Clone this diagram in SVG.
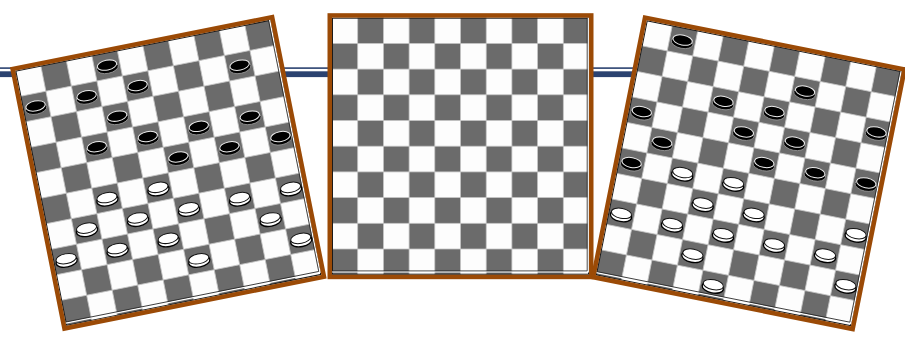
<svg xmlns="http://www.w3.org/2000/svg" xmlns:xlink="http://www.w3.org/1999/xlink" width="905" height="338" viewBox="0 0 905 338">
<style>
.dk{fill:#6b6b6b;stroke:#c4c4c4;stroke-width:0.8}
.frame{fill:none;stroke:#9b4a06;stroke-width:4.5}
.inner{fill:none;stroke:#1a1a1a;stroke-width:1}
.rail{fill:#2b4270}
</style>
<defs>
<g id="rowA">
<rect class="dk" x="25.7" y="0" width="25.7" height="25.7"/><rect class="dk" x="77.1" y="0" width="25.7" height="25.7"/><rect class="dk" x="128.5" y="0" width="25.7" height="25.7"/><rect class="dk" x="179.9" y="0" width="25.7" height="25.7"/><rect class="dk" x="231.3" y="0" width="25.7" height="25.7"/>
</g>
<g id="rowB">
<rect class="dk" x="0" y="0" width="25.7" height="25.7"/><rect class="dk" x="51.4" y="0" width="25.7" height="25.7"/><rect class="dk" x="102.8" y="0" width="25.7" height="25.7"/><rect class="dk" x="154.2" y="0" width="25.7" height="25.7"/><rect class="dk" x="205.6" y="0" width="25.7" height="25.7"/>
</g>
<g id="board">
<rect x="0" y="0" width="257" height="257" fill="#fdfdfd"/>
<use href="#rowA" y="0"/><use href="#rowB" y="25.7"/><use href="#rowA" y="51.4"/><use href="#rowB" y="77.1"/><use href="#rowA" y="102.8"/><use href="#rowB" y="128.5"/><use href="#rowA" y="154.2"/><use href="#rowB" y="179.9"/><use href="#rowA" y="205.6"/><use href="#rowB" y="231.3"/>
<rect class="inner" x="0.5" y="0.5" width="256" height="256"/>
<path d="M0 254.2H256.2V0" fill="none" stroke="#ffffff" stroke-width="1.4"/>
<path d="M0 253.2H255.2V0" fill="none" stroke="#222" stroke-width="0.8"/>
<rect class="frame" x="-2.25" y="-2.25" width="261.5" height="261.5"/>
</g>
<g id="bp">
<ellipse cx="0" cy="1.9" rx="10.8" ry="5.7" fill="#000" stroke="#9a9a9a" stroke-width="0.8"/>
<ellipse cx="0" cy="-0.6" rx="9.7" ry="4.9" fill="#000" stroke="#eeeeee" stroke-width="1"/>
</g>
<g id="wp">
<ellipse cx="0" cy="1.9" rx="10.6" ry="5.5" fill="#fff" stroke="#000" stroke-width="1.3"/>
<ellipse cx="0" cy="-0.8" rx="10.1" ry="4.9" fill="#fff" stroke="#111" stroke-width="1"/>
</g>
</defs>

<g id="rail">
<rect class="rail" x="0" y="67.3" width="905" height="1.6"/>
<rect class="rail" x="0" y="71.3" width="905" height="5.8"/>
</g>

<g id="board-middle" transform="translate(332,17.7)">
<use href="#board"/>
</g>

<g id="board-left" transform="translate(15.3,70.8) rotate(-11.3) scale(1.012)">
<use href="#board"/>
<g id="left-black">
<use href="#bp" x="89.95" y="12.85"/>
<use href="#bp" x="12.85" y="38.55"/>
<use href="#bp" x="64.25" y="38.55"/>
<use href="#bp" x="115.65" y="38.55"/>
<use href="#bp" x="218.45" y="38.55"/>
<use href="#bp" x="89.95" y="64.25"/>
<use href="#bp" x="64.25" y="89.95"/>
<use href="#bp" x="115.65" y="89.95"/>
<use href="#bp" x="167.05" y="89.95"/>
<use href="#bp" x="218.45" y="89.95"/>
<use href="#bp" x="141.35" y="115.65"/>
<use href="#bp" x="192.75" y="115.65"/>
<use href="#bp" x="244.15" y="115.65"/>
</g>
<g id="left-white">
<use href="#wp" x="64.25" y="141.35"/>
<use href="#wp" x="115.65" y="141.35"/>
<use href="#wp" x="38.55" y="167.05"/>
<use href="#wp" x="89.95" y="167.05"/>
<use href="#wp" x="141.35" y="167.05"/>
<use href="#wp" x="192.75" y="167.05"/>
<use href="#wp" x="244.15" y="167.05"/>
<use href="#wp" x="12.85" y="192.75"/>
<use href="#wp" x="64.25" y="192.75"/>
<use href="#wp" x="115.65" y="192.75"/>
<use href="#wp" x="218.45" y="192.75"/>
<use href="#wp" x="141.35" y="218.45"/>
<use href="#wp" x="244.15" y="218.45"/>
</g>
</g>

<g id="board-right" transform="translate(646.8,20.3) rotate(11.3) scale(1.012)">
<use href="#board"/>
<g id="right-black">
<use href="#bp" x="38.55" y="12.85"/>
<use href="#bp" x="167.05" y="38.55"/>
<use href="#bp" x="89.95" y="64.25"/>
<use href="#bp" x="141.35" y="64.25"/>
<use href="#bp" x="244.15" y="64.25"/>
<use href="#bp" x="12.85" y="89.95"/>
<use href="#bp" x="115.65" y="89.95"/>
<use href="#bp" x="167.05" y="89.95"/>
<use href="#bp" x="38.55" y="115.65"/>
<use href="#bp" x="141.35" y="115.65"/>
<use href="#bp" x="192.75" y="115.65"/>
<use href="#bp" x="244.15" y="115.65"/>
<use href="#bp" x="12.85" y="141.35"/>
</g>
<g id="right-white">
<use href="#wp" x="64.25" y="141.35"/>
<use href="#wp" x="115.65" y="141.35"/>
<use href="#wp" x="89.95" y="167.05"/>
<use href="#wp" x="141.35" y="167.05"/>
<use href="#wp" x="244.15" y="167.05"/>
<use href="#wp" x="12.85" y="192.75"/>
<use href="#wp" x="64.25" y="192.75"/>
<use href="#wp" x="115.65" y="192.75"/>
<use href="#wp" x="167.05" y="192.75"/>
<use href="#wp" x="218.45" y="192.75"/>
<use href="#wp" x="89.95" y="218.45"/>
<use href="#wp" x="244.15" y="218.45"/>
<use href="#wp" x="115.65" y="244.15"/>
</g>
</g>
</svg>
